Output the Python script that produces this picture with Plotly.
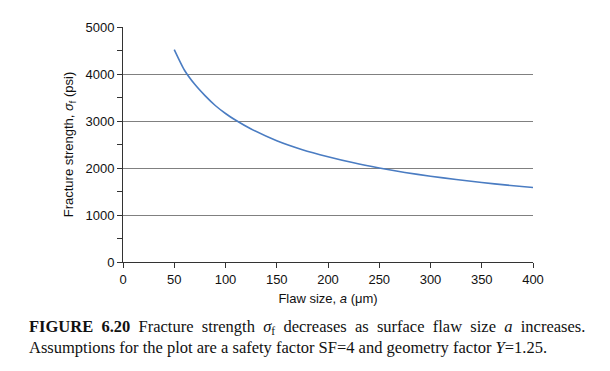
import plotly.graph_objects as go

# Data
flaw_size_um = [50, 60, 70, 80, 90, 100, 110, 125, 150, 175, 200, 225, 250, 275, 300, 325, 350, 375, 400]
strength_psi = [4520, 4080, 3780, 3540, 3330, 3160, 3015, 2830, 2580, 2390, 2240, 2110, 2000, 1905, 1825, 1755, 1690, 1635, 1585]

x_ticks = [0, 50, 100, 150, 200, 250, 300, 350, 400]
y_ticks = [0, 1000, 2000, 3000, 4000, 5000]

W, H = 610, 371
OFF = 8  # default body margin of the written html page
L, R, T, B = 122.5, 533, 21.5, 262  # plot area in window pixels

def px(xp):
    return (xp - L) / (R - L)

def py(yp):
    return (B - yp) / (B - T)

fig = go.Figure()
fig.add_trace(go.Scatter(
    x=flaw_size_um, y=strength_psi, mode="lines",
    line=dict(color="#4A7CC2", width=1.6, shape="spline", smoothing=0.6),
    hoverinfo="skip", showlegend=False,
))

axis_font = dict(family="Liberation Sans, Arial, sans-serif", size=13, color="#111")

fig.update_layout(
    width=W - 2 * OFF, height=H - 2 * OFF,
    margin=dict(l=L - OFF, r=W - OFF - R, t=T - OFF, b=H - OFF - B, pad=0),
    paper_bgcolor="white", plot_bgcolor="white",
    font=axis_font,
    xaxis=dict(
        range=[0, 400], tickvals=x_ticks, ticktext=[str(v) for v in x_ticks],
        showgrid=False, zeroline=False,
        showline=True, linecolor="#333", linewidth=1,
        ticks="outside", ticklen=5, tickcolor="#333", tickwidth=1,
        tickfont=axis_font,
        title=dict(text="Flaw size, <i>a</i> (μm)", font=axis_font, standoff=8),
    ),
    yaxis=dict(
        range=[0, 5000], tickvals=y_ticks, ticktext=[str(v) for v in y_ticks],
        showgrid=True, gridcolor="#808080", gridwidth=1.2,
        zeroline=False,
        showline=True, linecolor="#333", linewidth=1,
        ticks="outside", ticklen=5, tickcolor="#333", tickwidth=1,
        minor=dict(dtick=500, tick0=0, ticks="outside", ticklen=5, tickcolor="#333", showgrid=False),
        tickfont=axis_font,
        title=dict(text="Fracture strength, <i>σ</i><sub>f</sub> (psi)", font=axis_font, standoff=8),
    ),
)

cap_font = dict(family="Liberation Serif, Times New Roman, serif", size=16.5, color="#111")
sp = "\u00a0 "  # widened gaps to mimic the justified first line
line1 = sp.join([
    "<b>FIGURE" + sp + "6.20</b>", "Fracture", "strength", "<i>σ</i><sub>f</sub>",
    "decreases", "as", "surface", "flaw", "size", "<i>a</i>", "increases.",
])
fig.add_annotation(
    xref="paper", yref="paper", x=px(26), y=py(329), xanchor="left", yanchor="middle",
    text=line1, showarrow=False, font=cap_font,
)
fig.add_annotation(
    xref="paper", yref="paper", x=px(26), y=py(350), xanchor="left", yanchor="middle",
    text="Assumptions for the plot are a safety factor SF=4 and geometry factor <i>Y</i>=1.25.",
    showarrow=False, font=cap_font,
)

fig.write_html("out.html")
